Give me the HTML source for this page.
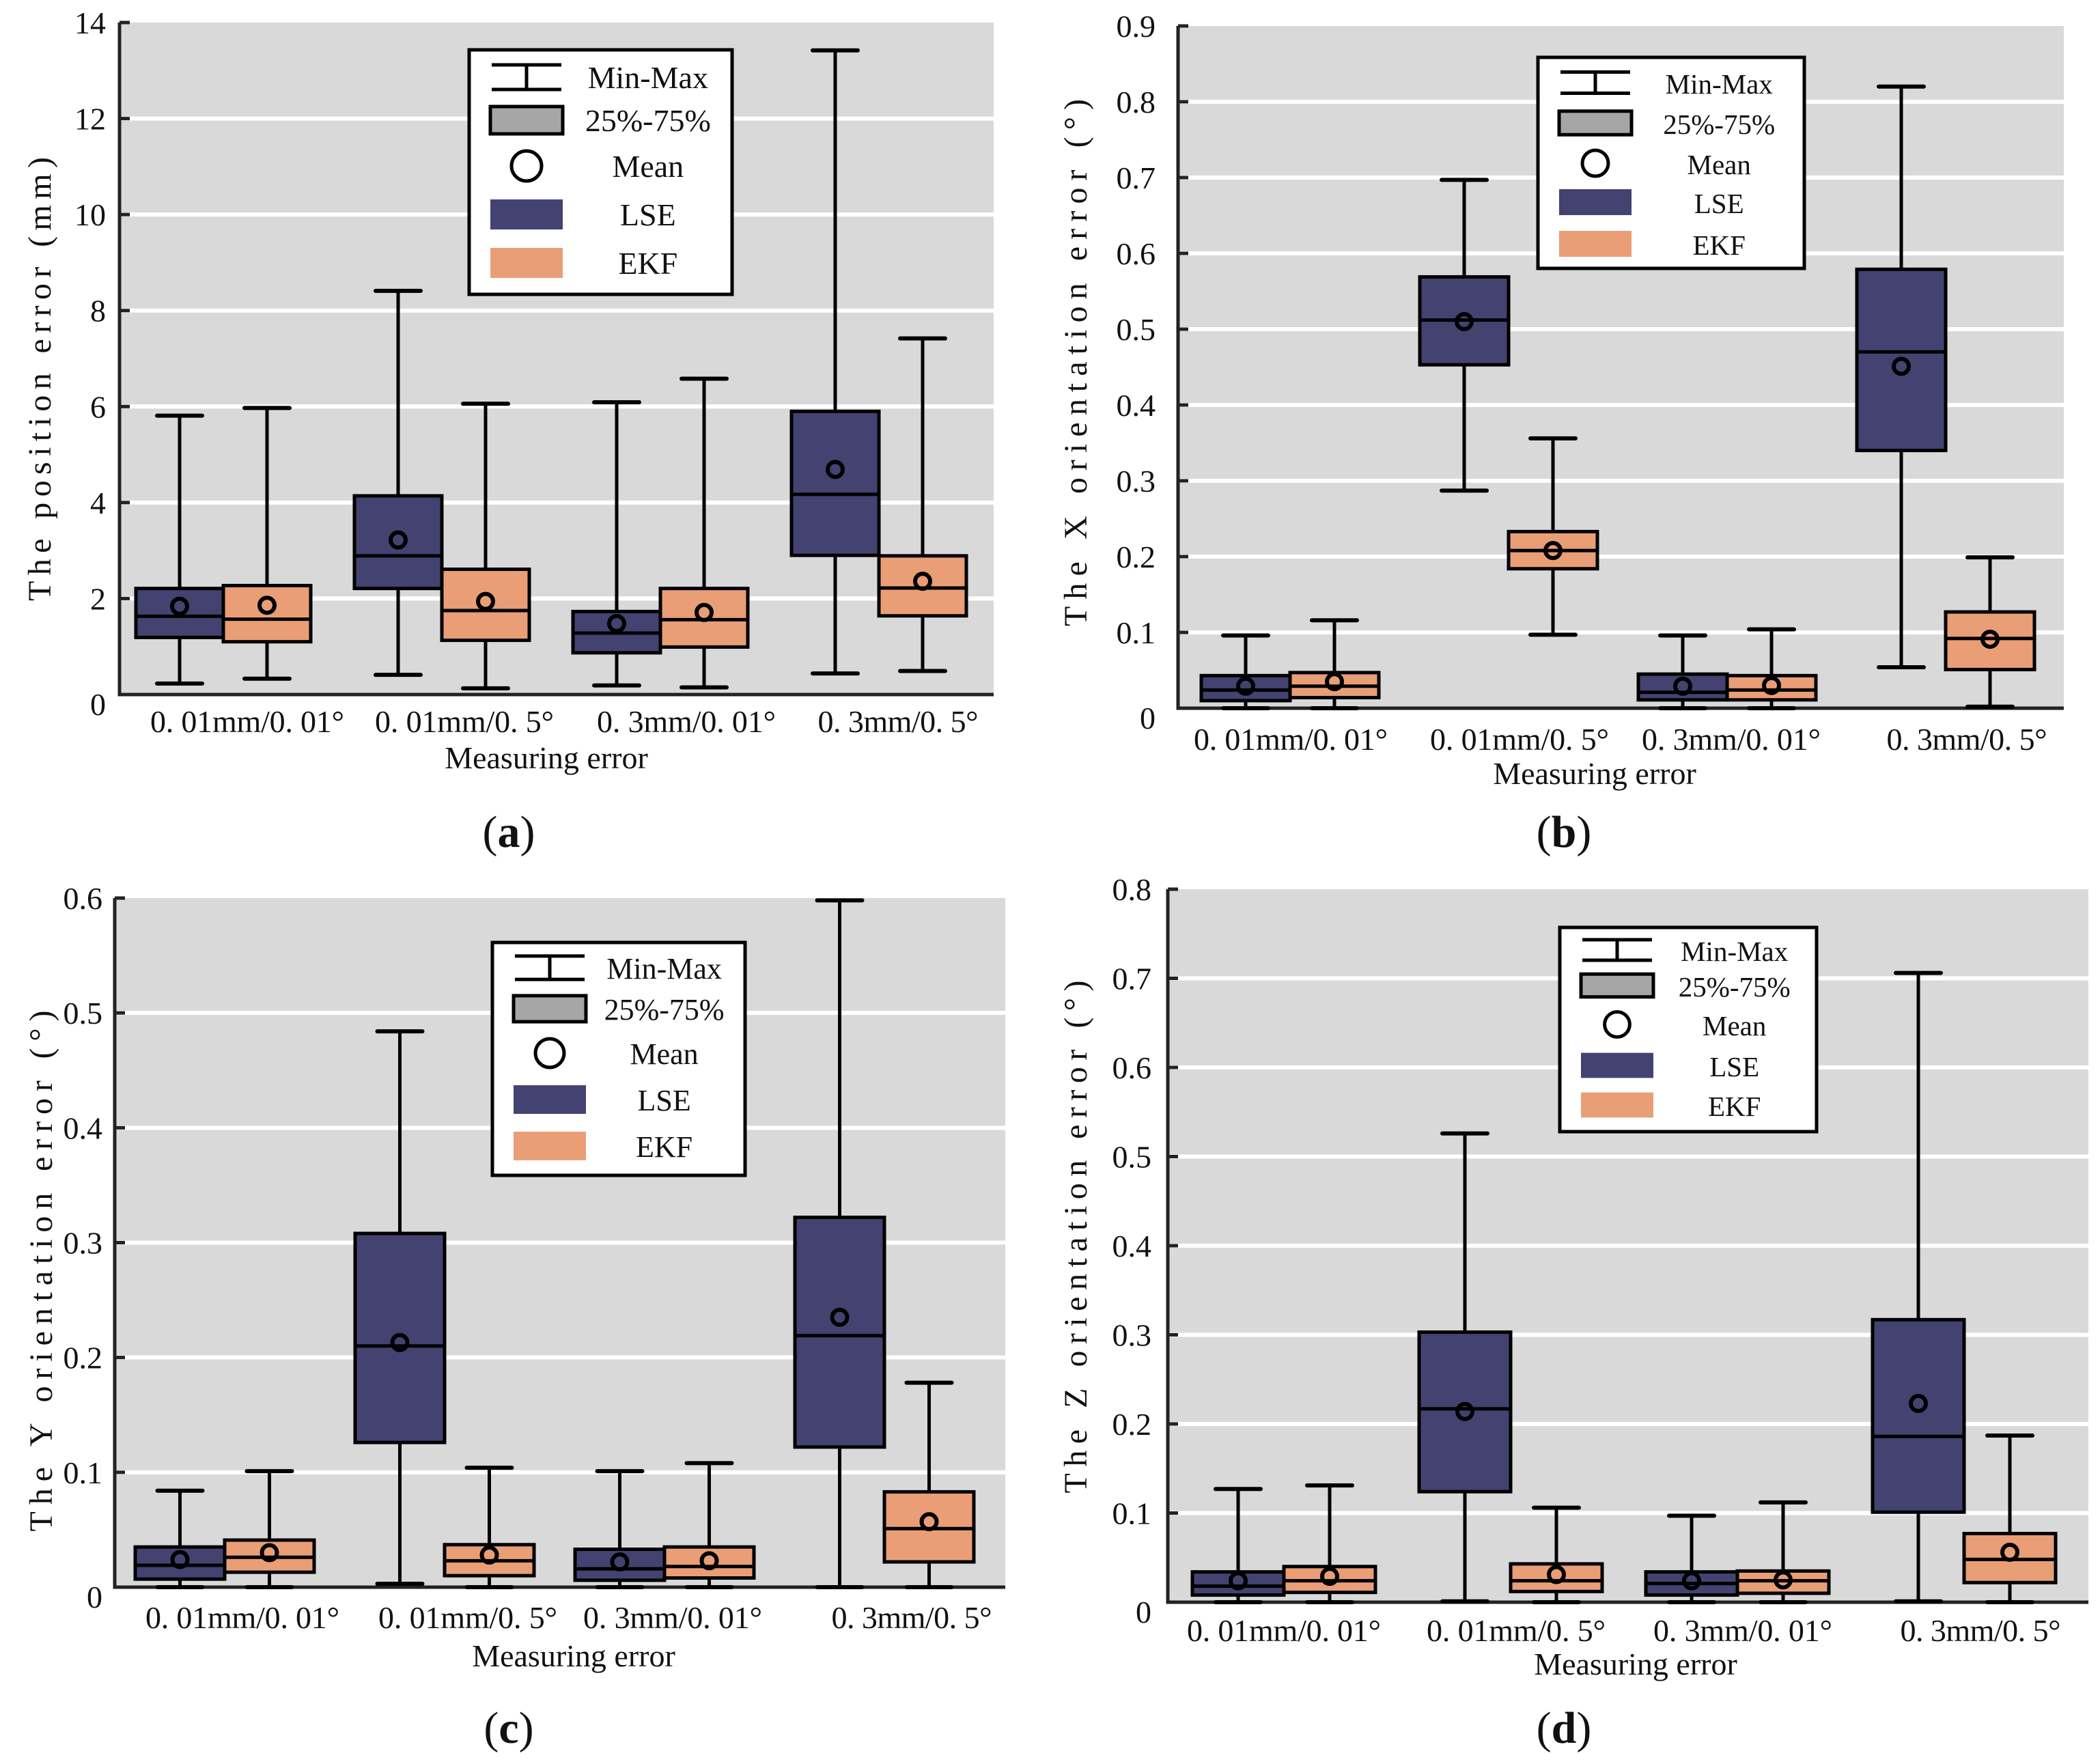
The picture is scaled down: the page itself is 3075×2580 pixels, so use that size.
<!DOCTYPE html>
<html><head><meta charset="utf-8">
<style>
html,body{margin:0;padding:0;background:#fff;}
svg{display:block;}
text{font-family:"Liberation Serif","Noto Serif CJK SC",serif;fill:#111;}
</style></head>
<body>
<svg id="fig" width="3075" height="2580" viewBox="0 0 3075 2580" xmlns="http://www.w3.org/2000/svg" font-family="Liberation Serif, serif"></svg>
<script>
// categories
const categories = ["0.01mm/0.01°","0.01mm/0.5°","0.3mm/0.01°","0.3mm/0.5°"];
const catLabels = ["0. 01mm/0. 01°","0. 01mm/0. 5°","0. 3mm/0. 01°","0. 3mm/0. 5°"];
// each row: [min, q1, median, q3, max, mean]
const aLSE = [[0.23,1.19,1.63,2.21,5.81,1.84],[0.41,2.21,2.89,4.14,8.41,3.22],[0.19,0.87,1.28,1.73,6.09,1.48],[0.44,2.90,4.17,5.90,13.42,4.69]];
const aEKF = [[0.33,1.10,1.57,2.27,5.97,1.86],[0.13,1.13,1.75,2.61,6.06,1.94],[0.15,0.99,1.56,2.21,6.58,1.71],[0.49,1.64,2.22,2.89,7.42,2.36]];
const aTicks = [0,2,4,6,8,10,12,14];
const bLSE = [[0,0.010,0.024,0.043,0.096,0.029],[0.287,0.453,0.512,0.569,0.697,0.510],[0,0.011,0.021,0.045,0.096,0.029],[0.054,0.340,0.470,0.579,0.820,0.451]];
const bEKF = [[0,0.014,0.029,0.047,0.116,0.035],[0.097,0.184,0.208,0.233,0.356,0.208],[0,0.011,0.024,0.043,0.104,0.030],[0.002,0.051,0.092,0.127,0.199,0.091]];
const bTicks = [0,0.1,0.2,0.3,0.4,0.5,0.6,0.7,0.8,0.9];
const cLSE = [[0,0.007,0.019,0.035,0.084,0.024],[0.003,0.126,0.210,0.308,0.484,0.213],[0,0.006,0.016,0.033,0.101,0.022],[0,0.122,0.219,0.322,0.598,0.235]];
const cEKF = [[0,0.013,0.026,0.041,0.101,0.030],[0,0.010,0.023,0.037,0.104,0.028],[0,0.008,0.018,0.035,0.108,0.023],[0,0.022,0.051,0.083,0.178,0.057]];
const cTicks = [0,0.1,0.2,0.3,0.4,0.5,0.6];
const dLSE = [[0,0.008,0.018,0.034,0.127,0.024],[0.001,0.124,0.217,0.303,0.526,0.214],[0,0.008,0.021,0.034,0.097,0.024],[0.001,0.101,0.186,0.317,0.706,0.223]];
const dEKF = [[0,0.011,0.024,0.040,0.131,0.029],[0,0.012,0.024,0.043,0.106,0.031],[0,0.010,0.024,0.035,0.112,0.025],[0,0.022,0.048,0.077,0.187,0.056]];
const dTicks = [0,0.1,0.2,0.3,0.4,0.5,0.6,0.7,0.8];

const NS="http://www.w3.org/2000/svg";
const svg=document.getElementById('fig');
const FF="Liberation Serif, Noto Serif CJK SC, serif";
function mk(tag,attrs,parent){const e=document.createElementNS(NS,tag);for(const k in attrs)e.setAttribute(k,attrs[k]);if(tag==='text')e.setAttribute('font-family',FF);(parent||svg).appendChild(e);return e;}
const LSEC="#434270", EKFC="#e99e76";

const panels=[
 {id:'a',lse:aLSE,ekf:aEKF,ticks:aTicks,x0:175,x1:1455,yt:33,yb:1017,g0:327,step:320,bw:128,tickR:155,
  ylab:"The position error (mm)",ylx:58,yly:555,yll:650,labY:1072,labX:[362,680,1005,1315],meY:1125,meX:800,capY:1240,capX:745,
  leg:{x:687,y:73,w:385,h:358,ys:[113,176,243,314,385]}},
 {id:'b',lse:bLSE,ekf:bEKF,ticks:bTicks,x0:1725,x1:3022,yt:38,yb:1037,g0:1889,step:320,bw:130,tickR:1692,
  ylab:"The X orientation error (°)",ylx:1575,yly:531,yll:772,labY:1098,labX:[1890,2225,2535,2880],meY:1148,meX:2335,capY:1240,capX:2290,
  leg:{x:2252,y:84,w:390,h:309,ys:[121,180,239,296,357]}},
 {id:'c',lse:cLSE,ekf:cEKF,ticks:cTicks,x0:168,x1:1472,yt:1315,yb:2324,g0:329,step:322,bw:131,tickR:150,
  ylab:"The Y orientation error (°)",ylx:60,yly:1861,yll:763,labY:2384,labX:[355,685,985,1335],meY:2440,meX:840,capY:2552,capX:745,
  leg:{x:721,y:1380,w:370,h:341,ys:[1417,1477,1542,1610,1678]}},
 {id:'d',lse:dLSE,ekf:dEKF,ticks:dTicks,x0:1710,x1:3058,yt:1302,yb:2346,g0:1880,step:332,bw:134,tickR:1686,
  ylab:"The Z orientation error (°)",ylx:1575,yly:1811,yll:751,labY:2403,labX:[1880,2220,2552,2900],meY:2452,meX:2395,capY:2552,capX:2290,
  leg:{x:2284,y:1358,w:376,h:299,ys:[1391,1443,1500,1560,1618]}}
];

function fmt(v){return Number.isInteger(v)?String(v):v.toFixed(1);}

panels.forEach(p=>{
  const g=mk('g',{});
  
  
  const ymax=p.ticks[p.ticks.length-1];
  const Y=v=>p.yb-(v/ymax)*(p.yb-p.yt);
  const bg=mk('rect',{x:p.x0,y:p.yt,width:p.x1-p.x0,height:p.yb-p.yt,fill:'#d9d9d9'},g);
  
  
  p.ticks.forEach(t=>{
    const y=Y(t);
    if(t>0&&t<ymax){
      const gl=mk('line',{x1:p.x0,x2:p.x1,y1:y,y2:y,stroke:'#fff','stroke-width':6},g);
      
      
    }
    mk('line',{x1:p.x0,x2:p.x0+15,y1:y,y2:y,stroke:'#222','stroke-width':5},g);
    const tl=mk('text',{x:p.tickR,y:y+(t===0?30:16),'text-anchor':'end','font-size':46},g);
    tl.textContent=fmt(t);
    
    
  });
  const ax=mk('path',{d:`M${p.x0},${p.yt} V${p.yb} H${p.x1}`,fill:'none',stroke:'#222','stroke-width':5},g);
  
  

  function drawBox(s,cx,color,name){
    const bx=mk('g',{},g);
    
    
    const [mn,q1,md,q3,mx,mean]=s;
    mk('line',{x1:cx,x2:cx,y1:Y(mx),y2:Y(mn),stroke:'#000','stroke-width':5},bx);
    mk('line',{x1:cx-33,x2:cx+33,y1:Y(mx),y2:Y(mx),stroke:'#000','stroke-width':6,'stroke-linecap':'round'},bx);
    mk('line',{x1:cx-33,x2:cx+33,y1:Y(mn),y2:Y(mn),stroke:'#000','stroke-width':6,'stroke-linecap':'round'},bx);
    mk('rect',{x:cx-p.bw/2,y:Y(q3),width:p.bw,height:Math.max(1,Y(q1)-Y(q3)),fill:color,stroke:'#000','stroke-width':5},bx);
    mk('line',{x1:cx-p.bw/2,x2:cx+p.bw/2,y1:Y(md),y2:Y(md),stroke:'#000','stroke-width':5},bx);
    mk('circle',{cx:cx,cy:Y(mean),r:11,fill:'none',stroke:'#000','stroke-width':6},bx);
  }
  categories.forEach((c,i)=>{
    const gc=p.g0+i*p.step;
    drawBox(p.lse[i],gc-p.bw/2,LSEC,'lse-box-'+(i+1));
    drawBox(p.ekf[i],gc+p.bw/2,EKFC,'ekf-box-'+(i+1));
    const xl=mk('text',{x:p.labX[i],y:p.labY,'text-anchor':'middle','font-size':46,textLength:(i===0?284:(i===3?235:262)),lengthAdjust:'spacing'},g);
    xl.textContent=catLabels[i];
    
    
  });
  const me=mk('text',{x:p.meX,y:p.meY,'text-anchor':'middle','font-size':46},g);
  me.textContent="Measuring error";
  
  
  const yl=mk('text',{x:0,y:0,'text-anchor':'middle','font-size':48,textLength:p.yll,lengthAdjust:'spacing',transform:`translate(${p.ylx+16},${p.yly}) rotate(-90)`},g);
  yl.textContent=p.ylab;
  
  
  const cap=mk('text',{x:p.capX,y:p.capY,'text-anchor':'middle','font-size':66},g);
  cap.innerHTML='(<tspan font-weight="bold">'+p.id+'</tspan>)';
  
  

  // legend
  const L=p.leg;
  const lg=mk('g',{},g);
  
  
  mk('rect',{x:L.x,y:L.y,width:L.w,height:L.h,fill:'#fff',stroke:'#000','stroke-width':5},lg);
  const sx=L.x+31, sw=106, sc=sx+sw/2, tx=L.x+L.w*0.68;
  const f=L.h/358;
  const y0=L.ys[0];
  mk('line',{x1:sx+2,x2:sx+sw-2,y1:y0-18*f,y2:y0-18*f,stroke:'#000','stroke-width':5},lg);
  mk('line',{x1:sx+2,x2:sx+sw-2,y1:y0+18*f,y2:y0+18*f,stroke:'#000','stroke-width':5},lg);
  mk('line',{x1:sc,x2:sc,y1:y0-18*f,y2:y0+18*f,stroke:'#000','stroke-width':5},lg);
  mk('rect',{x:sx,y:L.ys[1]-20*f,width:sw,height:40*f,fill:'#a6a6a6',stroke:'#000','stroke-width':5},lg);
  mk('circle',{cx:sc,cy:L.ys[2],r:22*f,fill:'none',stroke:'#000','stroke-width':5},lg);
  mk('rect',{x:sx,y:L.ys[3]-22*f,width:sw,height:44*f,fill:LSEC},lg);
  mk('rect',{x:sx,y:L.ys[4]-22*f,width:sw,height:44*f,fill:EKFC},lg);
  const labels=["Min-Max","25%-75%","Mean","LSE","EKF"];
  labels.forEach((t,k)=>{
    const te=mk('text',{x:tx,y:L.ys[k]+16,'text-anchor':'middle','font-size':Math.round(46*Math.max(f,0.9))},lg);
    te.textContent=t;
    
    
  });
});
</script>
</body></html>
